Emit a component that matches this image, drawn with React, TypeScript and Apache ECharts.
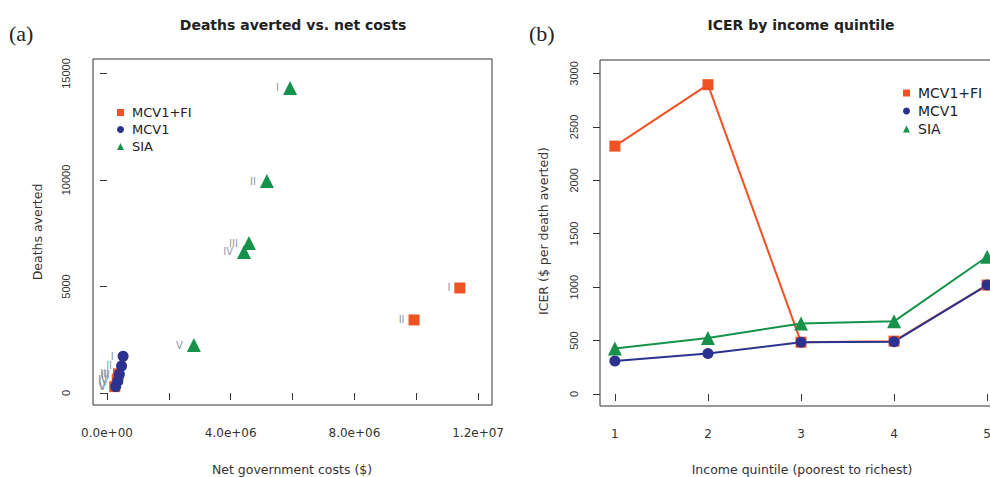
import React, { useEffect, useRef } from "react";
import * as echarts from "echarts";

// ---- Panel (a): deaths averted vs net government costs ----
const roman = ["I", "II", "III", "IV", "V"];
const costMCV1FI = [11.41e6, 9.93e6, 0.37e6, 0.33e6, 0.25e6];
const deathsMCV1FI = [4930, 3430, 900, 650, 300];
const costMCV1 = [0.52e6, 0.47e6, 0.4e6, 0.35e6, 0.28e6];
const deathsMCV1 = [1720, 1270, 880, 560, 300];
const costSIA = [5.92e6, 5.17e6, 4.59e6, 4.43e6, 2.81e6];
const deathsSIA = [14320, 9950, 7040, 6620, 2250];

const xTicksA = [0, 2e6, 4e6, 6e6, 8e6, 1e7, 1.2e7];
const xLabelsA = [0, 4e6, 8e6, 1.2e7];
const yTicksA = [0, 5000, 10000, 15000];

// ---- Panel (b): ICER by income quintile ----
const quintiles = [1, 2, 3, 4, 5];
const icerMCV1FI = [2320, 2895, 485, 495, 1020];
const icerMCV1 = [310, 380, 485, 490, 1020];
const icerSIA = [425, 525, 660, 680, 1285];
const yTicksB = [0, 500, 1000, 1500, 2000, 2500, 3000];

const seriesNames = ["MCV1+FI", "MCV1", "SIA"];
const RED = "#ef5323";
const BLUE = "#2c3290";
const GREEN = "#16924a";
const FONT = "Liberation Sans, Arial, sans-serif";
const WIDE = "DejaVu Sans, sans-serif";

const sci = (v: number) =>
  v.toExponential(1).replace(/e([+-])(\d)$/, "e$10$2");

export default function App() {
  const ref = useRef<HTMLDivElement>(null);
  useEffect(() => {
    document.body.style.margin = "0";
    document.body.style.overflow = "hidden";
    const chart = echarts.init(ref.current!, undefined, { renderer: "svg" });
    const pts = (xs: number[], ys: number[]) =>
      xs.map((x, i) => [x, ys[i], roman[i]]);
    const scatterLabel = {
      show: true,
      position: "left" as const,
      distance: 4,
      formatter: (p: any) => p.data[2],
      fontSize: 10,
      fontFamily: WIDE,
      color: "#8e9aa6",
    };
    const tick = { show: true, length: 7, lineStyle: { color: "#333", width: 1 } };
    const xLabel = { fontSize: 12, fontFamily: WIDE, color: "#333" };
    const yLabel = { fontSize: 11, fontFamily: FONT, color: "#333" };
    const legendData = [
      { name: seriesNames[0], icon: "rect" },
      { name: seriesNames[1], icon: "circle" },
      { name: seriesNames[2], icon: "triangle" },
    ];
    const legendBase = {
      orient: "vertical" as const,
      padding: 0,
      itemWidth: 7,
      itemHeight: 7,
      itemGap: 4,
      selectedMode: false,
      data: legendData,
    };
    chart.setOption({
      animation: false,
      textStyle: { fontFamily: FONT },
      grid: [
        { left: 93, top: 59, width: 399, height: 346, show: true, borderColor: "#333", borderWidth: 1 },
        { left: 600, top: 60, width: 402, height: 346, show: true, borderColor: "#333", borderWidth: 1 },
      ],
      xAxis: [
        {
          type: "value", gridIndex: 0, min: -453000, max: 12450000,
          axisLine: { show: false }, splitLine: { show: false },
          axisTick: { ...tick, customValues: xTicksA },
          axisLabel: { ...xLabel, margin: 22, customValues: xLabelsA, formatter: (v: number) => sci(v) },
        },
        {
          type: "value", gridIndex: 1, min: 0.84, max: 5.16,
          axisLine: { show: false }, splitLine: { show: false },
          axisTick: { ...tick, customValues: quintiles },
          axisLabel: { ...xLabel, margin: 22, customValues: quintiles, formatter: (v: number) => String(v) },
        },
      ],
      yAxis: [
        {
          type: "value", gridIndex: 0, min: -563, max: 15680,
          axisLine: { show: false }, splitLine: { show: false },
          axisTick: { ...tick, customValues: yTicksA },
          axisLabel: { ...yLabel, margin: 22, rotate: 90, customValues: yTicksA, formatter: (v: number) => String(v) },
        },
        {
          type: "value", gridIndex: 1, min: -112, max: 3126,
          axisLine: { show: false }, splitLine: { show: false },
          axisTick: { ...tick, customValues: yTicksB },
          axisLabel: { ...yLabel, margin: 21, rotate: 90, customValues: yTicksB, formatter: (v: number) => String(v) },
        },
      ],
      legend: [
        { ...legendBase, left: 117, top: 106, textStyle: { fontSize: 13, fontFamily: WIDE, color: "#222", padding: [0, 0, 0, 3] } },
        { ...legendBase, left: 903, top: 86, textStyle: { fontSize: 14, fontFamily: WIDE, color: "#222", padding: [0, 0, 0, 3] } },
      ],
      series: [
        {
          name: seriesNames[0], type: "scatter", xAxisIndex: 0, yAxisIndex: 0,
          symbol: "rect", symbolSize: 11, itemStyle: { color: RED, opacity: 1 },
          label: scatterLabel, data: pts(costMCV1FI, deathsMCV1FI),
        },
        {
          name: seriesNames[1], type: "scatter", xAxisIndex: 0, yAxisIndex: 0,
          symbol: "circle", symbolSize: 11, itemStyle: { color: BLUE, opacity: 1 },
          label: scatterLabel, data: pts(costMCV1, deathsMCV1),
        },
        {
          name: seriesNames[2], type: "scatter", xAxisIndex: 0, yAxisIndex: 0,
          symbol: "triangle", symbolSize: 14, itemStyle: { color: GREEN, opacity: 1 },
          label: scatterLabel, data: pts(costSIA, deathsSIA),
        },
        {
          name: seriesNames[0], type: "line", xAxisIndex: 1, yAxisIndex: 1,
          symbol: "rect", symbolSize: 11, showAllSymbol: true,
          itemStyle: { color: RED, opacity: 1 }, lineStyle: { color: RED, width: 2 },
          data: quintiles.map((q, i) => [q, icerMCV1FI[i]]),
        },
        {
          name: seriesNames[1], type: "line", xAxisIndex: 1, yAxisIndex: 1,
          symbol: "circle", symbolSize: 11, showAllSymbol: true,
          itemStyle: { color: BLUE, opacity: 1 }, lineStyle: { color: BLUE, width: 2 },
          data: quintiles.map((q, i) => [q, icerMCV1[i]]),
        },
        {
          name: seriesNames[2], type: "line", xAxisIndex: 1, yAxisIndex: 1,
          symbol: "triangle", symbolSize: 14, showAllSymbol: true,
          itemStyle: { color: GREEN, opacity: 1 }, lineStyle: { color: GREEN, width: 2 },
          data: quintiles.map((q, i) => [q, icerSIA[i]]),
        },
      ],
      graphic: [
        { type: "text", left: 9, top: 22, style: { text: "(a)", font: "22px 'Liberation Serif', 'DejaVu Serif', serif", fill: "#222" } },
        { type: "text", left: 529, top: 22, style: { text: "(b)", font: "22px 'Liberation Serif', 'DejaVu Serif', serif", fill: "#222" } },
        { type: "text", x: 293, y: 25, style: { text: "Deaths averted vs. net costs", font: "bold 14px 'DejaVu Sans', sans-serif", fill: "#222", align: "center", verticalAlign: "middle" } },
        { type: "text", x: 801, y: 25, style: { text: "ICER by income quintile", font: "bold 14px 'DejaVu Sans', sans-serif", fill: "#222", align: "center", verticalAlign: "middle" } },
        { type: "text", x: 292, y: 469, style: { text: "Net government costs ($)", font: "12.5px 'DejaVu Sans', sans-serif", fill: "#333", align: "center", verticalAlign: "middle" } },
        { type: "text", x: 802, y: 469, style: { text: "Income quintile (poorest to richest)", font: "12.5px 'DejaVu Sans', sans-serif", fill: "#333", align: "center", verticalAlign: "middle" } },
        { type: "text", x: 37, y: 232, rotation: Math.PI / 2, style: { text: "Deaths averted", font: "12.5px 'DejaVu Sans', sans-serif", fill: "#333", align: "center", verticalAlign: "middle" } },
        { type: "text", x: 543, y: 231, rotation: Math.PI / 2, style: { text: "ICER ($ per death averted)", font: "12.5px 'DejaVu Sans', sans-serif", fill: "#333", align: "center", verticalAlign: "middle" } },
      ],
    });
    return () => chart.dispose();
  }, []);
  return <div ref={ref} style={{ width: 1010, height: 477 }} />;
}
